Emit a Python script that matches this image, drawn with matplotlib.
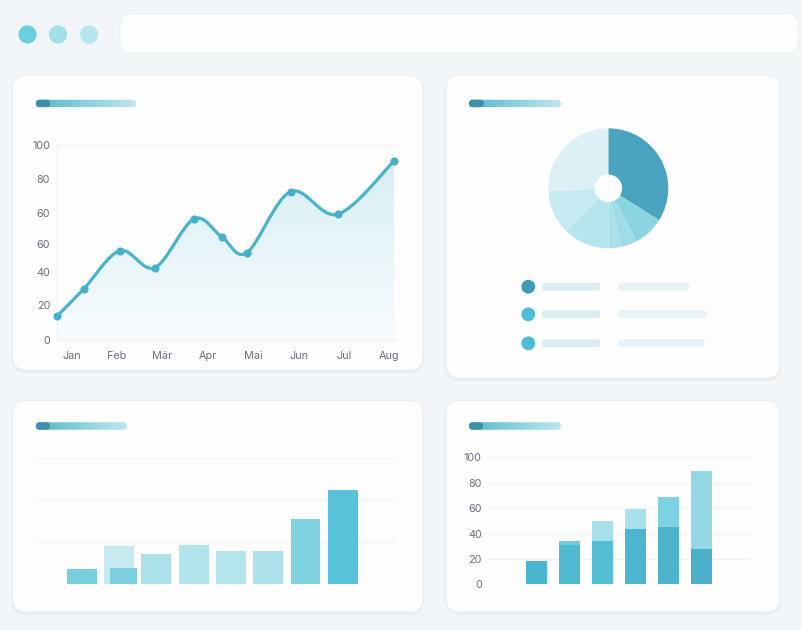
import matplotlib
matplotlib.use("Agg")
import matplotlib.pyplot as plt
import numpy as np
from matplotlib.patches import FancyBboxPatch, Circle, PathPatch
from matplotlib.path import Path

plt.rcParams["font.family"] = ["Inter", "DejaVu Sans"]

W, H = 802, 630

# -----------------------------
# Data
# -----------------------------

# Line chart (top left)
months = ["Jan", "Feb", "Mär", "Apr", "Mai", "Jun", "Jul", "Aug"]
line_x = [-0.32, 0.27, 1.06, 1.83, 2.69, 3.31, 3.86, 4.82, 5.86, 7.10]
line_y = [12.3, 26.3, 45.8, 37.1, 62.1, 52.8, 44.8, 76.1, 64.5, 91.8]
line_ticks = [0, 17.9, 34.9, 49.2, 65.1, 82.6, 100]
line_tick_labels = ["0", "20", "40", "60", "60", "80", "100"]

# Donut (top right)
pie_values = [122, 30, 16, 12, 45, 42, 93]
pie_colors = ["#4aa3bf", "#8ad5e1", "#9fdce7", "#a9e0e9",
              "#b7e5ed", "#c6eaf1", "#dbf1f5"]
legend_dot_colors = ["#3f9ab4", "#4dbcd5", "#4dbcd5"]

# Bar chart (bottom left)
bl_values = [9.0, 22.4, 18.0, 23.0, 19.4, 19.4, 38.4, 55.8]
bl_front = [0, 9.4, 0, 0, 0, 0, 0, 0]
bl_colors = ["#78cedd", "#c6eaf0", "#ace1ea", "#b2e4ec",
             "#b5e5ed", "#ade1eb", "#80d2e0", "#58c2db"]

# Bar chart (bottom right)
br_total = [18, 34, 50, 59, 68.5, 89]
br_front = [18, 31, 34, 43.5, 45, 27.5]
br_back_colors = ["#4ab6ce", "#72cbdc", "#a6e0ea", "#a9e1ea", "#7ed1e0", "#93d8e4"]
br_front_colors = ["#4ab6ce", "#50bad1", "#53bdd4", "#4db6ce", "#4cb3cb", "#4cb0c9"]
br_ticks = [0, 20, 40, 60, 80, 100]

TICK_COLOR = "#6b7079"
GRID_COLOR = "#eef2f5"


def px_axes(fig, x0, y0, x1, y1):
    """Axes placed by pixel box (top-left origin)."""
    return fig.add_axes([x0 / W, 1 - y1 / H, (x1 - x0) / W, (y1 - y0) / H])


def rounded(ax, x, y, w, h, r, **kw):
    patch = FancyBboxPatch((x, y), w, h,
                           boxstyle=f"round,pad=0,rounding_size={r}", **kw)
    ax.add_patch(patch)
    return patch


def title_pill(ax, x0, x1, yc, cap):
    h = 7.5
    clip = rounded(ax, x0, yc - h / 2, x1 - x0, h, h / 2,
                   facecolor="none", edgecolor="none")
    grad = np.linspace(0, 1, 200)[None, :]
    cmap = matplotlib.colors.LinearSegmentedColormap.from_list(
        "pill", ["#5ab6ca", "#8bd0dd", "#bfe6ed"])
    im = ax.imshow(grad, cmap=cmap, extent=[x0, x1, yc + h / 2, yc - h / 2],
                   aspect="auto", zorder=3)
    im.set_clip_path(clip)
    rounded(ax, x0, yc - h / 2, cap - x0, h, h / 2,
            facecolor="#3e8fab", edgecolor="none", zorder=4)


def smooth_path(xs, ys):
    pts = np.column_stack([xs, ys])
    ext = np.vstack([pts[0], pts, pts[-1]])
    verts = [pts[0]]
    codes = [Path.MOVETO]
    for i in range(len(pts) - 1):
        p0, p1, p2, p3 = ext[i], ext[i + 1], ext[i + 2], ext[i + 3]
        verts += [p1 + (p2 - p0) / 6, p2 - (p3 - p1) / 6, p2]
        codes += [Path.CURVE4] * 3
    return verts, codes


fig = plt.figure(figsize=(W / 100, H / 100), dpi=100)
fig.patch.set_facecolor("#f2f6f8")

# -----------------------------
# Background decor
# -----------------------------
bg = fig.add_axes([0, 0, 1, 1])
bg.set_xlim(0, W)
bg.set_ylim(H, 0)
bg.axis("off")

for cx, col in zip([27.5, 58, 89], ["#6ccfdf", "#a3e1ea", "#b5e6ed"]):
    bg.add_patch(Circle((cx, 34.5), 8.4, color=col))
rounded(bg, 120, 13.5, 678, 39.5, 12, facecolor="#fdfefe",
        edgecolor="#eaf0f3", lw=0.6)

cards = [(12.5, 75.5, 423, 370), (446, 75.5, 780, 378),
         (12.5, 400.5, 423, 612), (446, 400.5, 780, 612)]
for x0, y0, x1, y1 in cards:
    rounded(bg, x0 - 1, y0 + 1, x1 - x0 + 2, y1 - y0 + 2, 15,
            facecolor="#e4ebef", edgecolor="none", alpha=0.7)
    rounded(bg, x0, y0, x1 - x0, y1 - y0, 14, facecolor="#fdfdfe",
            edgecolor="#e8eef1", lw=0.6)

title_pill(bg, 36, 136, 103.5, 50)
title_pill(bg, 469, 561, 103.5, 484)
title_pill(bg, 36, 127, 426, 50)
title_pill(bg, 469, 561, 426, 483)

# Donut legend rows
row_y = [286.7, 314.3, 343.3]
right_ends = [689.3, 707.3, 705]
for yc, col, xe in zip(row_y, legend_dot_colors, right_ends):
    bg.add_patch(Circle((528.3, yc), 6.2, color=col))
    rounded(bg, 541.7, yc - 4, 58.6, 8, 4, facecolor="#dcedf2", edgecolor="none")
    rounded(bg, 618, yc - 4, xe - 618, 8, 4, facecolor="#e7f3f6", edgecolor="none")

# -----------------------------
# Line chart
# -----------------------------
ax1 = px_axes(fig, 57, 145, 397, 340)
ax1.set_facecolor("none")
xmin, xmax = (57 - 71.7) / 45.4, (397 - 71.7) / 45.4
ax1.set_xlim(xmin, xmax)
ax1.set_ylim(0, 100)

verts, codes = smooth_path(line_x, line_y)
line_path = Path(verts, codes)
fill_path = Path(verts + [(line_x[-1], 0), (line_x[0], 0), (line_x[0], 0)],
                 codes + [Path.LINETO, Path.LINETO, Path.CLOSEPOLY])

# Gradient under the curve
ramp = np.linspace(0, 1, 256)[:, None]
rgba = np.zeros((256, 1, 4))
rgba[..., 0], rgba[..., 1], rgba[..., 2] = 0.58, 0.84, 0.90
rgba[..., 3] = 0.04 + 0.36 * ramp
im = ax1.imshow(rgba, extent=[xmin, xmax, 0, 100], origin="lower",
                aspect="auto", zorder=1)
im.set_clip_path(fill_path, transform=ax1.transData)

ax1.add_patch(PathPatch(line_path, facecolor="none", edgecolor="#4ab3cc",
                        lw=2.3, capstyle="round", zorder=3))
ax1.scatter(line_x, line_y, s=34, color="#47afc8", zorder=4, linewidths=0,
            clip_on=False)

ax1.axhline(100, color=GRID_COLOR, lw=0.8, zorder=0)
ax1.set_yticks(line_ticks, line_tick_labels)
ax1.set_xticks(range(len(months)), months)
ax1.tick_params(axis="y", length=0, pad=5, labelsize=7.8, labelcolor=TICK_COLOR)
ax1.tick_params(axis="x", length=0, pad=8, labelsize=7.8, labelcolor=TICK_COLOR)
for side in ["top", "right"]:
    ax1.spines[side].set_visible(False)
for side in ["left", "bottom"]:
    ax1.spines[side].set_color("#edf1f4")
    ax1.spines[side].set_linewidth(0.8)

# -----------------------------
# Donut chart
# -----------------------------
ax2 = px_axes(fig, 548.3, 128.3, 668.3, 248.3)
ax2.pie(pie_values, colors=pie_colors, startangle=90, counterclock=False,
        radius=1, wedgeprops=dict(width=0.77, linewidth=0))
ax2.set_xlim(-1, 1)
ax2.set_ylim(-1, 1)
ax2.set_aspect("equal")

# -----------------------------
# Bar chart (bottom left)
# -----------------------------
ax3 = px_axes(fig, 36, 457.7, 396, 584)
ax3.set_facecolor("none")
idx3 = np.arange(len(bl_values))
ax3.bar(idx3, bl_values, width=0.8, color=bl_colors, zorder=2)
ax3.bar(idx3 + 0.12, bl_front, width=0.72, color="#7fd0de", zorder=3)
ax3.set_xlim((36 - 81.7) / 37.3, (396 - 81.7) / 37.3)
ax3.set_ylim(0, 75)
ax3.set_yticks([0, 25, 50, 75])
ax3.grid(axis="y", color=GRID_COLOR, lw=0.8, zorder=0)
ax3.tick_params(length=0, labelleft=False, labelbottom=False)
for s in ax3.spines.values():
    s.set_visible(False)

# -----------------------------
# Bar chart (bottom right)
# -----------------------------
ax4 = px_axes(fig, 488, 457.3, 750, 584.3)
ax4.set_facecolor("none")
idx4 = np.arange(len(br_total))
ax4.bar(idx4, br_total, width=0.66, color=br_back_colors, zorder=2)
ax4.bar(idx4, br_front, width=0.66, color=br_front_colors, zorder=3)
ax4.set_xlim((488 - 536.5) / 33, (750 - 536.5) / 33)
ax4.set_ylim(0, 100)
ax4.set_yticks(br_ticks)
ax4.grid(axis="y", color=GRID_COLOR, lw=0.8, zorder=0)
ax4.tick_params(axis="y", length=0, pad=4.5, labelsize=7.8, labelcolor=TICK_COLOR)
ax4.tick_params(axis="x", length=0, labelbottom=False)
for s in ax4.spines.values():
    s.set_visible(False)

fig.savefig("out.png", dpi=100, facecolor=fig.get_facecolor())
